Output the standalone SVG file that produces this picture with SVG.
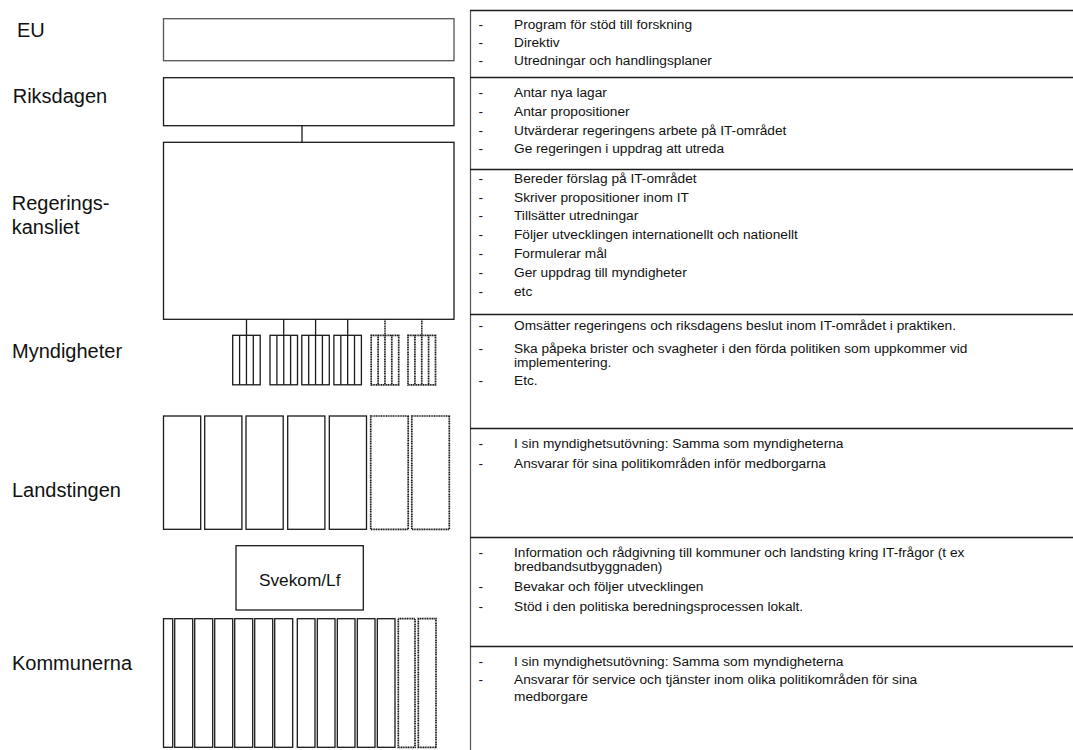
<svg xmlns="http://www.w3.org/2000/svg" width="1073" height="750" viewBox="0 0 1073 750">
<style>
.lbl{font-family:"Liberation Sans",Arial,sans-serif;font-size:20px;fill:#111}
.t{font-family:"Liberation Sans",Arial,sans-serif;font-size:13.7px;fill:#111}
.box{fill:#fff;stroke:#1a1a1a;stroke-width:1.3}
.dot{fill:#fff;stroke:#1a1a1a;stroke-width:1.7;stroke-dasharray:1.2 0.5}
.ln{stroke:#1a1a1a;stroke-width:1.3;fill:none}
.dln{stroke:#1a1a1a;stroke-width:1.5;fill:none;stroke-dasharray:1.2 0.5}
.sep{stroke:#1a1a1a;stroke-width:1.3}
</style>
<rect width="1073" height="750" fill="#fff"/>

<g id="panel">
<line x1="470.5" y1="10.5" x2="470.5" y2="750" stroke="#555" stroke-width="1.2"/>
<line class="sep" x1="470" y1="10.5" x2="1073" y2="10.5"/>
<line class="sep" x1="470" y1="77.5" x2="1073" y2="77.5"/>
<line class="sep" x1="470" y1="169.5" x2="1073" y2="169.5"/>
<line class="sep" x1="470" y1="314.5" x2="1073" y2="314.5"/>
<line class="sep" x1="470" y1="428.5" x2="1073" y2="428.5"/>
<line class="sep" x1="470" y1="537.5" x2="1073" y2="537.5"/>
<line class="sep" x1="470" y1="646.5" x2="1073" y2="646.5"/>
</g>

<g id="connectors">
<line class="ln" x1="302" y1="125.7" x2="302" y2="142.3"/>
<line class="ln" x1="246.5" y1="319.3" x2="246.5" y2="335.3"/>
<line class="ln" x1="283.7" y1="319.3" x2="283.7" y2="335.3"/>
<line class="ln" x1="315.6" y1="319.3" x2="315.6" y2="335.3"/>
<line class="ln" x1="347.7" y1="319.3" x2="347.7" y2="335.3"/>
<line class="dln" x1="385" y1="319.3" x2="385" y2="335.3"/>
<line class="dln" x1="421.8" y1="319.3" x2="421.8" y2="335.3"/>
</g>

<g id="eu">
<text class="lbl" x="17" y="36.7">EU</text>
<rect x="163.5" y="18.7" width="290.5" height="42" fill="#fff" stroke="#555" stroke-width="1.3"/>
<text class="t"><tspan x="478.5" y="29">-</tspan><tspan x="514" y="29">Program för stöd till forskning</tspan><tspan x="478.5" y="47">-</tspan><tspan x="514" y="47">Direktiv</tspan><tspan x="478.5" y="64.5">-</tspan><tspan x="514" y="64.5">Utredningar och handlingsplaner</tspan></text>
</g>

<g id="riksdagen">
<text class="lbl" x="12.7" y="103.3">Riksdagen</text>
<rect class="box" x="163.5" y="77.7" width="290.5" height="48"/>
<text class="t"><tspan x="478.5" y="97">-</tspan><tspan x="514" y="97">Antar nya lagar</tspan><tspan x="478.5" y="115.5">-</tspan><tspan x="514" y="115.5">Antar propositioner</tspan><tspan x="478.5" y="134.5">-</tspan><tspan x="514" y="134.5">Utvärderar regeringens arbete på IT-området</tspan><tspan x="478.5" y="153">-</tspan><tspan x="514" y="153">Ge regeringen i uppdrag att utreda</tspan></text>
</g>

<g id="regeringskansliet">
<text class="lbl"><tspan x="11.7" y="210">Regerings-</tspan><tspan x="11.7" y="234">kansliet</tspan></text>
<rect class="box" x="163.5" y="142.3" width="290.5" height="177"/>
<text class="t"><tspan x="478.5" y="183">-</tspan><tspan x="514" y="183">Bereder förslag på IT-området</tspan><tspan x="478.5" y="201.5">-</tspan><tspan x="514" y="201.5">Skriver propositioner inom IT</tspan><tspan x="478.5" y="220">-</tspan><tspan x="514" y="220">Tillsätter utredningar</tspan><tspan x="478.5" y="239">-</tspan><tspan x="514" y="239">Följer utvecklingen internationellt och nationellt</tspan><tspan x="478.5" y="258">-</tspan><tspan x="514" y="258">Formulerar mål</tspan><tspan x="478.5" y="277">-</tspan><tspan x="514" y="277">Ger uppdrag till myndigheter</tspan><tspan x="478.5" y="295.5">-</tspan><tspan x="514" y="295.5">etc</tspan></text>
</g>

<defs>
<g id="mg">
<rect x="0" y="0" width="27.5" height="49.5"/>
<line x1="6.9" y1="0" x2="6.9" y2="49.5"/>
<line x1="13.75" y1="0" x2="13.75" y2="49.5"/>
<line x1="20.6" y1="0" x2="20.6" y2="49.5"/>
</g>
</defs>

<g id="myndigheter">
<text class="lbl" x="12" y="358">Myndigheter</text>
<use href="#mg" x="232.7" y="335.3" class="box"/>
<use href="#mg" x="270" y="335.3" class="box"/>
<use href="#mg" x="301.8" y="335.3" class="box"/>
<use href="#mg" x="333.9" y="335.3" class="box"/>
<use href="#mg" x="371.2" y="335.3" class="dot"/>
<use href="#mg" x="408" y="335.3" class="dot"/>
<text class="t"><tspan x="478.5" y="330">-</tspan><tspan x="514" y="330">Omsätter regeringens och riksdagens beslut inom IT-området i praktiken.</tspan><tspan x="478.5" y="352.5">-</tspan><tspan x="514" y="352.5">Ska påpeka brister och svagheter i den förda politiken som uppkommer vid</tspan><tspan x="514" y="366.5">implementering.</tspan><tspan x="478.5" y="385">-</tspan><tspan x="514" y="385">Etc.</tspan></text>
</g>

<g id="landstingen">
<text class="lbl" x="12" y="497">Landstingen</text>
<rect class="box" x="163.5" y="416" width="37.2" height="113.3"/>
<rect class="box" x="204.7" y="416" width="37.2" height="113.3"/>
<rect class="box" x="246" y="416" width="37.2" height="113.3"/>
<rect class="box" x="287.7" y="416" width="37.2" height="113.3"/>
<rect class="box" x="329.3" y="416" width="37.2" height="113.3"/>
<rect class="dot" x="370.7" y="416" width="37.5" height="113.3"/>
<rect class="dot" x="411.8" y="416" width="37.5" height="113.3"/>
<text class="t"><tspan x="478.5" y="447.5">-</tspan><tspan x="514" y="447.5">I sin myndighetsutövning: Samma som myndigheterna</tspan><tspan x="478.5" y="467.5">-</tspan><tspan x="514" y="467.5">Ansvarar för sina politikområden inför medborgarna</tspan></text>
</g>

<g id="svekom">
<rect class="box" x="236" y="545.7" width="127.3" height="64.3"/>
<text x="299.7" y="585.5" text-anchor="middle" font-family="Liberation Sans, Arial, sans-serif" font-size="17.3" fill="#111">Svekom/Lf</text>
<text class="t"><tspan x="478.5" y="556.5">-</tspan><tspan x="514" y="556.5">Information och rådgivning till kommuner och landsting kring IT-frågor (t ex</tspan><tspan x="514" y="570.5">bredbandsutbyggnaden)</tspan><tspan x="478.5" y="590.5">-</tspan><tspan x="514" y="590.5">Bevakar och följer utvecklingen</tspan><tspan x="478.5" y="610.5">-</tspan><tspan x="514" y="610.5">Stöd i den politiska beredningsprocessen lokalt.</tspan></text>
</g>

<g id="kommunerna">
<text class="lbl" x="12" y="670">Kommunerna</text>
<rect class="box" x="163.5" y="618.7" width="9.2" height="128.6"/>
<rect class="box" x="174.7" y="618.7" width="18" height="128.6"/>
<rect class="box" x="194.7" y="618.7" width="18" height="128.6"/>
<rect class="box" x="214.7" y="618.7" width="18" height="128.6"/>
<rect class="box" x="234.7" y="618.7" width="18" height="128.6"/>
<rect class="box" x="254.7" y="618.7" width="18" height="128.6"/>
<rect class="box" x="274.7" y="618.7" width="18" height="128.6"/>
<rect class="box" x="297.3" y="618.7" width="17.7" height="128.6"/>
<rect class="box" x="317.3" y="618.7" width="17.7" height="128.6"/>
<rect class="box" x="337.3" y="618.7" width="17.7" height="128.6"/>
<rect class="box" x="357.3" y="618.7" width="17.7" height="128.6"/>
<rect class="box" x="377.3" y="618.7" width="17.7" height="128.6"/>
<rect class="dot" x="398.3" y="618.7" width="16.7" height="128.6"/>
<rect class="dot" x="418.3" y="618.7" width="17.7" height="128.6"/>
<text class="t"><tspan x="478.5" y="665.5">-</tspan><tspan x="514" y="665.5">I sin myndighetsutövning: Samma som myndigheterna</tspan><tspan x="478.5" y="684">-</tspan><tspan x="514" y="684">Ansvarar för service och tjänster inom olika politikområden för sina</tspan><tspan x="514" y="701">medborgare</tspan></text>
</g>
</svg>
